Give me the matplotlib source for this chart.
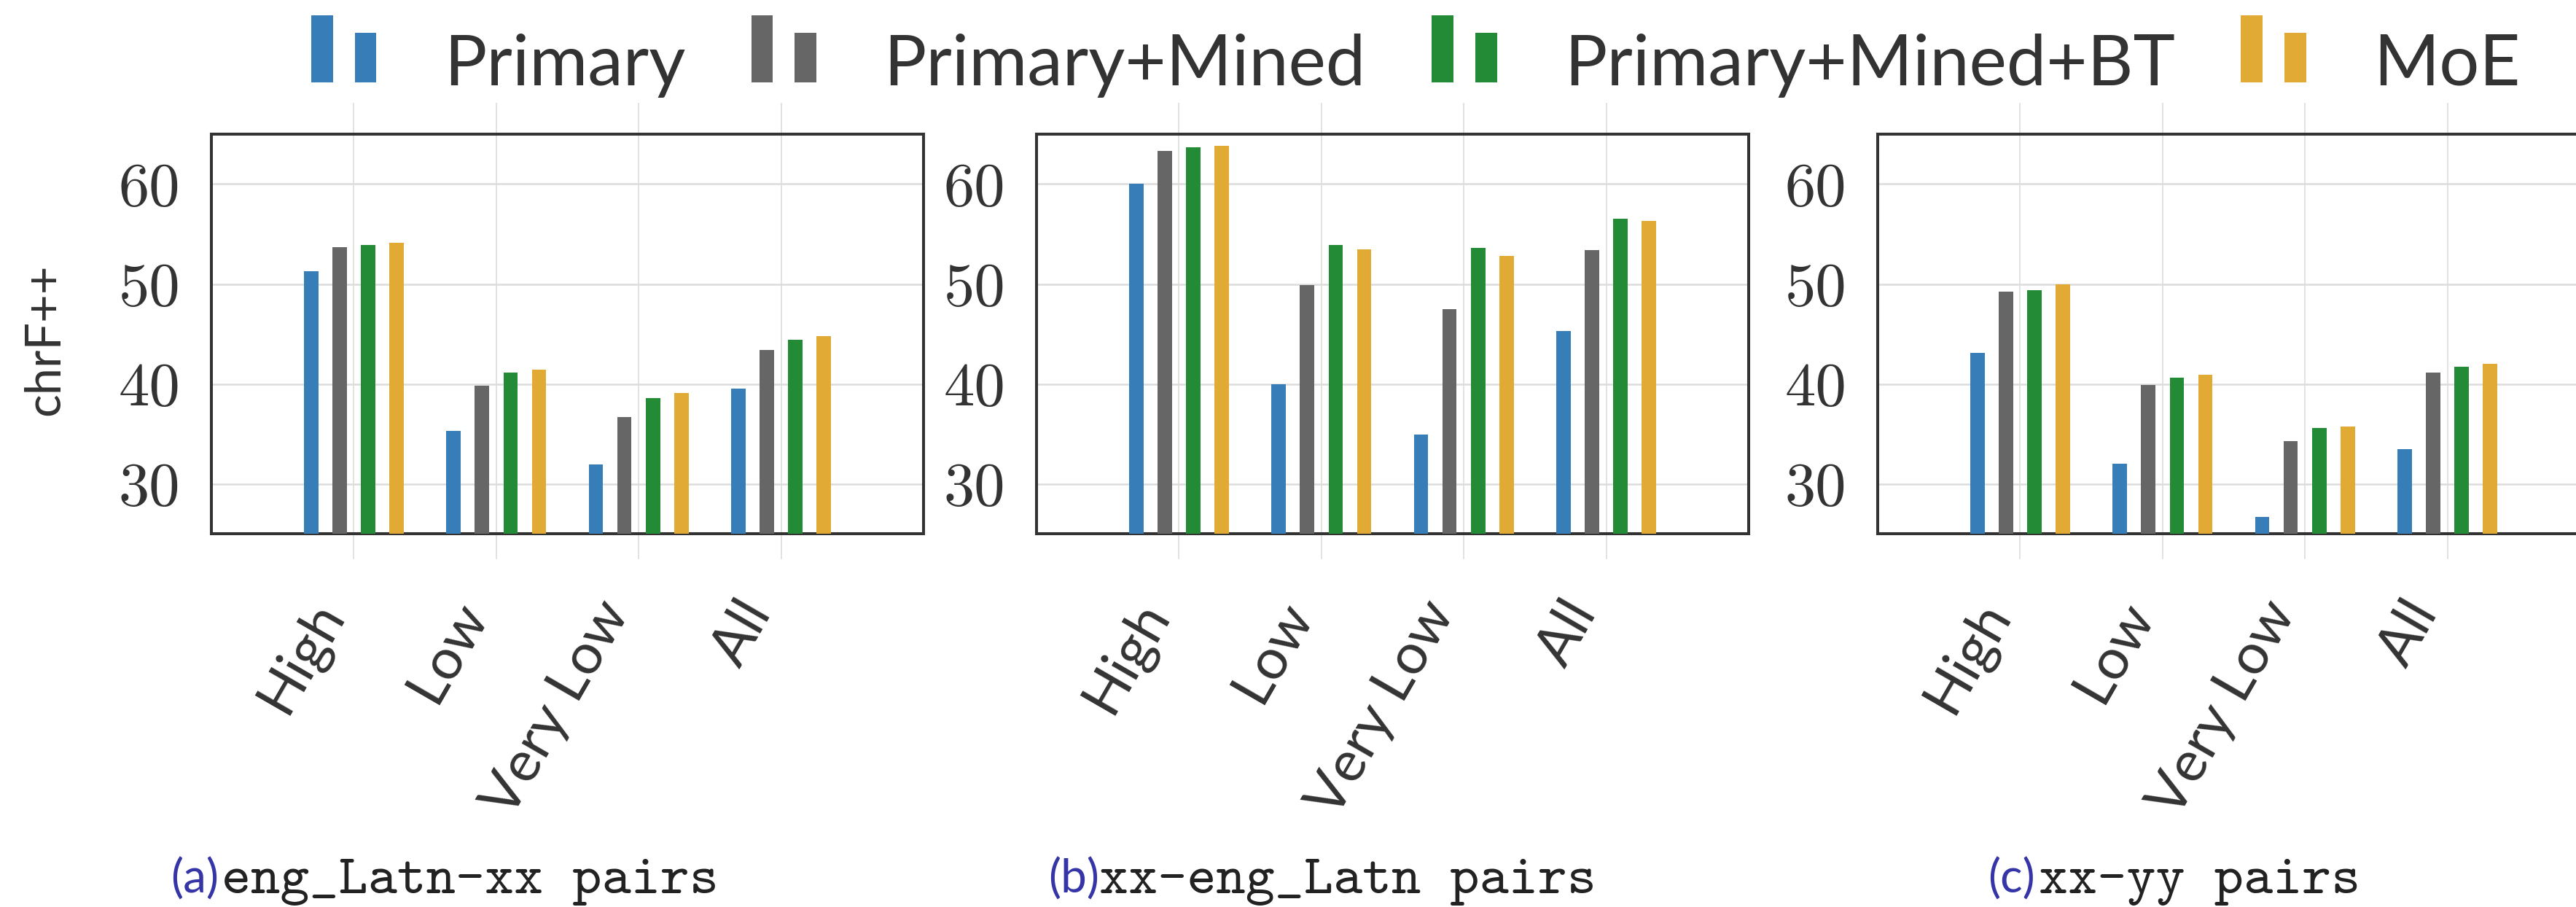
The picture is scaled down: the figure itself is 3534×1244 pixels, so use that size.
import matplotlib
matplotlib.use("Agg")
import matplotlib.pyplot as plt
import numpy as np
from matplotlib.patches import Patch, Rectangle
from matplotlib.legend_handler import HandlerBase

groups = ["High", "Low", "Very Low", "All"]
systems = ["Primary", "Primary+Mined", "Primary+Mined+BT", "MoE"]
colors = ["#377eb8", "#666666", "#238b35", "#e1aa35"]

# chrF++ per resource group, one row per system
eng_xx = [
    [51.3, 35.3, 31.9, 39.5],
    [53.7, 39.8, 36.7, 43.4],
    [53.9, 41.1, 38.6, 44.4],
    [54.1, 41.4, 39.1, 44.8],
]
xx_eng = [
    [60.0, 40.0, 34.9, 45.3],
    [63.3, 49.9, 47.5, 53.4],
    [63.7, 53.9, 53.6, 56.5],
    [63.8, 53.5, 52.8, 56.3],
]
xx_yy = [
    [43.1, 32.0, 26.7, 33.5],
    [49.2, 39.9, 34.3, 41.1],
    [49.4, 40.6, 35.6, 41.7],
    [50.0, 40.9, 35.7, 42.0],
]
panels = [eng_xx, xx_eng, xx_yy]
caption_tags = ["(a)", "(b)", "(c)"]
caption_texts = ["eng_Latn-xx pairs", "xx-eng_Latn pairs", "xx-yy pairs"]

W, H = 3534, 1244
TEXT = "#333333"
SANS = {"family": "Lato"}


class TwoBars(HandlerBase):
    """Legend key drawn as a tall and a short bar side by side."""

    def create_artists(self, legend, orig_handle, xdescent, ydescent,
                       width, height, fontsize, trans):
        c = orig_handle.get_facecolor()
        w = width / 3.0
        y0 = 0.04 * fontsize
        top = 0.99 * fontsize
        tall = Rectangle((-xdescent, y0), w, top - y0, facecolor=c,
                         edgecolor="none", transform=trans)
        short = Rectangle((-xdescent + 2 * w, y0), w, 0.75 * top - y0,
                          facecolor=c, edgecolor="none", transform=trans)
        return [tall, short]


fig = plt.figure(figsize=(W / 100, H / 100), dpi=100)

ax_left = [290, 1422, 2576]
ax_w, ax_top, ax_bot = 977, 184, 732
x = np.arange(len(groups))
offsets = [-0.3, -0.1, 0.1, 0.3]

axes = []
for k, data in enumerate(panels):
    ax = fig.add_axes([ax_left[k] / W, 1 - ax_bot / H, ax_w / W,
                       (ax_bot - ax_top) / H])
    for i, vals in enumerate(data):
        ax.bar(x + offsets[i], vals, width=0.1, color=colors[i], zorder=3)
    ax.set_xlim(-1, 4)
    ax.set_ylim(25, 65)
    ax.set_yticks([30, 40, 50, 60])
    ax.set_axisbelow(True)
    ax.grid(axis="y", color="#dcdcdc", lw=1.8)
    for xi in x:
        ax.axvline(xi, ymin=-0.062, ymax=1.077, clip_on=False,
                   color="#e2e2e2", lw=1.4, zorder=0)
    ax.set_xticks(x)
    ax.set_xticklabels(groups, rotation=60, ha="right", fontsize=56,
                       color=TEXT, **SANS)
    ax.tick_params(axis="x", length=0, pad=58)
    ax.tick_params(axis="y", length=0, pad=31, labelsize=61,
                   labelcolor=TEXT)
    for lab in ax.get_yticklabels():
        lab.set_family("cmr10")
    for sp in ax.spines.values():
        sp.set_color("#333333")
        sp.set_linewidth(2.9)
    axes.append(ax)

fig.text(62 / W, 1 - 466 / H, "chrF++", rotation=90, ha="center",
         va="center", fontsize=48, color=TEXT, **SANS)

handles = [Patch(facecolor=c) for c in colors]
fig.legend(handles, systems, handler_map={Patch: TwoBars()},
           loc="upper left", bbox_to_anchor=(427 / W, 1 - 40 / H), ncol=4,
           frameon=False, prop={"family": "Lato", "size": 70},
           labelcolor=TEXT, handlelength=0.92, handleheight=1.0,
           handletextpad=0.95, columnspacing=0.93, borderpad=0,
           borderaxespad=0)

tag_x = [234, 1438, 2727]
text_x = [304, 1508, 2797]
for k in range(3):
    fig.text(tag_x[k] / W, 1 - 1225 / H, caption_tags[k], ha="left",
             va="baseline", fontsize=46, color="#3535a8", **SANS)
    fig.text(text_x[k] / W, 1 - 1225 / H, caption_texts[k], ha="left",
             va="baseline", family="cmtt10", fontsize=55, color="#222222")

fig.savefig("out.png", dpi=100)
